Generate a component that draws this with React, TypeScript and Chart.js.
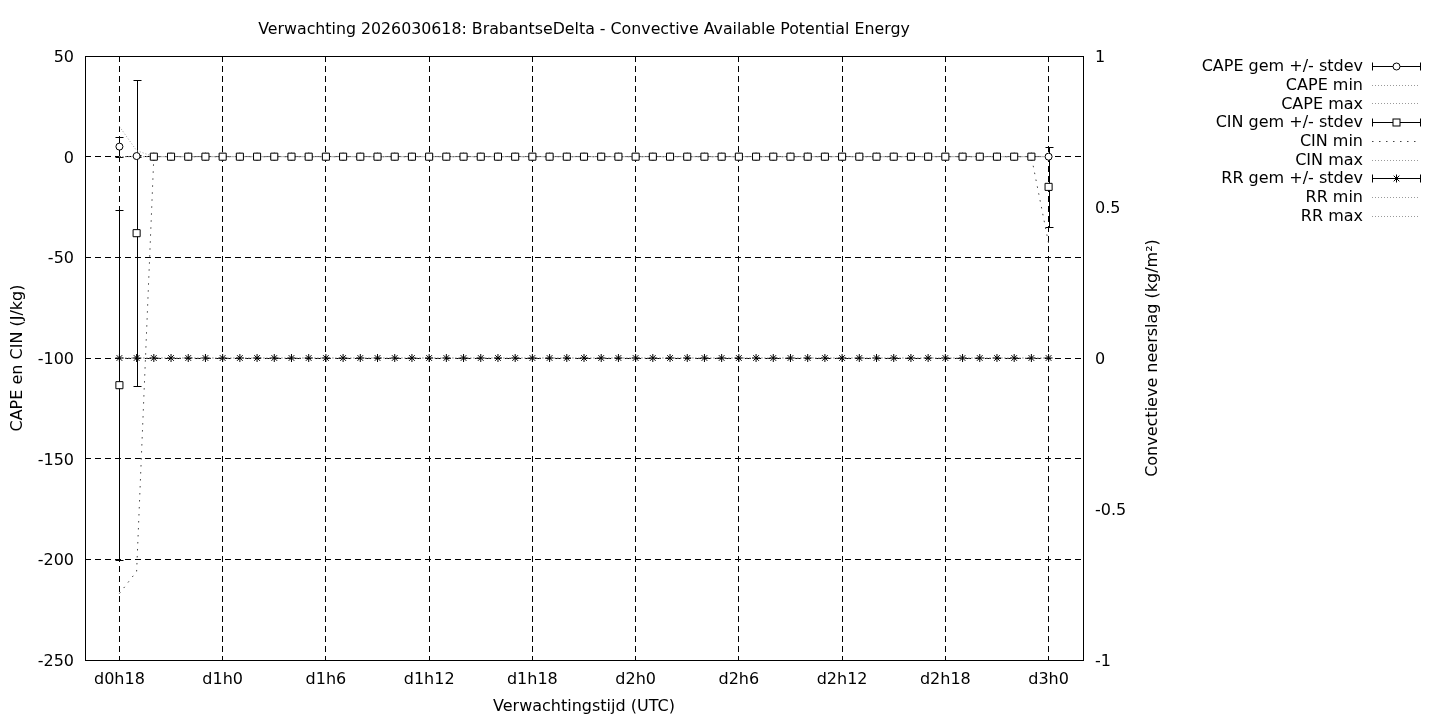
import React, { useEffect, useRef } from "react";
import { Chart, registerables } from "chart.js";

Chart.register(...registerables);

const FONT = "'DejaVu Sans', sans-serif";

// forecast hour (hours since d0h0)
const hours = [
  18, 19, 20, 21, 22, 23, 24, 25, 26, 27,
  28, 29, 30, 31, 32, 33, 34, 35, 36, 37,
  38, 39, 40, 41, 42, 43, 44, 45, 46, 47,
  48, 49, 50, 51, 52, 53, 54, 55, 56, 57,
  58, 59, 60, 61, 62, 63, 64, 65, 66, 67,
  68, 69, 70, 71, 72,
];

const capeMean = [
  5, 0.3, 0, 0, 0, 0, 0, 0, 0, 0,
  0, 0, 0, 0, 0, 0, 0, 0, 0, 0,
  0, 0, 0, 0, 0, 0, 0, 0, 0, 0,
  0, 0, 0, 0, 0, 0, 0, 0, 0, 0,
  0, 0, 0, 0, 0, 0, 0, 0, 0, 0,
  0, 0, 0, 0, 0,
];
const capeStd = [
  5, 0.5, 0, 0, 0, 0, 0, 0, 0, 0,
  0, 0, 0, 0, 0, 0, 0, 0, 0, 0,
  0, 0, 0, 0, 0, 0, 0, 0, 0, 0,
  0, 0, 0, 0, 0, 0, 0, 0, 0, 0,
  0, 0, 0, 0, 0, 0, 0, 0, 0, 0,
  0, 0, 0, 0, 0,
];
const capeMin = [
  0, 0, 0, 0, 0, 0, 0, 0, 0, 0,
  0, 0, 0, 0, 0, 0, 0, 0, 0, 0,
  0, 0, 0, 0, 0, 0, 0, 0, 0, 0,
  0, 0, 0, 0, 0, 0, 0, 0, 0, 0,
  0, 0, 0, 0, 0, 0, 0, 0, 0, 0,
  0, 0, 0, 0, 0,
];
const capeMax = [
  15, 3, 0, 0, 0, 0, 0, 0, 0, 0,
  0, 0, 0, 0, 0, 0, 0, 0, 0, 0,
  0, 0, 0, 0, 0, 0, 0, 0, 0, 0,
  0, 0, 0, 0, 0, 0, 0, 0, 0, 0,
  0, 0, 0, 0, 0, 0, 0, 0, 0, 0,
  0, 0, 0, 0, 0,
];
const cinMean = [
  -113.5, -38, 0, 0, 0, 0, 0, 0, 0, 0,
  0, 0, 0, 0, 0, 0, 0, 0, 0, 0,
  0, 0, 0, 0, 0, 0, 0, 0, 0, 0,
  0, 0, 0, 0, 0, 0, 0, 0, 0, 0,
  0, 0, 0, 0, 0, 0, 0, 0, 0, 0,
  0, 0, 0, 0, -15,
];
const cinStd = [
  87, 76, 0, 0, 0, 0, 0, 0, 0, 0,
  0, 0, 0, 0, 0, 0, 0, 0, 0, 0,
  0, 0, 0, 0, 0, 0, 0, 0, 0, 0,
  0, 0, 0, 0, 0, 0, 0, 0, 0, 0,
  0, 0, 0, 0, 0, 0, 0, 0, 0, 0,
  0, 0, 0, 0, 20,
];
const cinMin = [
  -217, -206, 0, 0, 0, 0, 0, 0, 0, 0,
  0, 0, 0, 0, 0, 0, 0, 0, 0, 0,
  0, 0, 0, 0, 0, 0, 0, 0, 0, 0,
  0, 0, 0, 0, 0, 0, 0, 0, 0, 0,
  0, 0, 0, 0, 0, 0, 0, 0, 0, 0,
  0, 0, 0, 0, -43,
];
const cinMax = [
  0, 0, 0, 0, 0, 0, 0, 0, 0, 0,
  0, 0, 0, 0, 0, 0, 0, 0, 0, 0,
  0, 0, 0, 0, 0, 0, 0, 0, 0, 0,
  0, 0, 0, 0, 0, 0, 0, 0, 0, 0,
  0, 0, 0, 0, 0, 0, 0, 0, 0, 0,
  0, 0, 0, 0, 0,
];
const rrMean = [
  0, 0, 0, 0, 0, 0, 0, 0, 0, 0,
  0, 0, 0, 0, 0, 0, 0, 0, 0, 0,
  0, 0, 0, 0, 0, 0, 0, 0, 0, 0,
  0, 0, 0, 0, 0, 0, 0, 0, 0, 0,
  0, 0, 0, 0, 0, 0, 0, 0, 0, 0,
  0, 0, 0, 0, 0,
];
const rrStd = [
  0, 0, 0, 0, 0, 0, 0, 0, 0, 0,
  0, 0, 0, 0, 0, 0, 0, 0, 0, 0,
  0, 0, 0, 0, 0, 0, 0, 0, 0, 0,
  0, 0, 0, 0, 0, 0, 0, 0, 0, 0,
  0, 0, 0, 0, 0, 0, 0, 0, 0, 0,
  0, 0, 0, 0, 0,
];
const rrMin = [
  0, 0, 0, 0, 0, 0, 0, 0, 0, 0,
  0, 0, 0, 0, 0, 0, 0, 0, 0, 0,
  0, 0, 0, 0, 0, 0, 0, 0, 0, 0,
  0, 0, 0, 0, 0, 0, 0, 0, 0, 0,
  0, 0, 0, 0, 0, 0, 0, 0, 0, 0,
  0, 0, 0, 0, 0,
];
const rrMax = [
  0, 0, 0, 0, 0, 0, 0, 0, 0, 0,
  0, 0, 0, 0, 0, 0, 0, 0, 0, 0,
  0, 0, 0, 0, 0, 0, 0, 0, 0, 0,
  0, 0, 0, 0, 0, 0, 0, 0, 0, 0,
  0, 0, 0, 0, 0, 0, 0, 0, 0, 0,
  0, 0, 0, 0, 0,
];

const xTickValues = [18, 24, 30, 36, 42, 48, 54, 60, 66, 72];
const xTickLabels = ["d0h18", "d1h0", "d1h6", "d1h12", "d1h18", "d2h0", "d2h6", "d2h12", "d2h18", "d3h0"];
const yTickValues = [50, 0, -50, -100, -150, -200, -250];
const y2TickValues = [1, 0.5, 0, -0.5, -1];

const TITLE = "Verwachting 2026030618: BrabantseDelta - Convective Available Potential Energy";
const X_TITLE = "Verwachtingstijd (UTC)";
const Y_TITLE = "CAPE en CIN (J/kg)";
const Y2_TITLE = "Convectieve neerslag (kg/m²)";

const legendLabels = [
  "CAPE gem +/- stdev", "CAPE min", "CAPE max",
  "CIN gem +/- stdev", "CIN min", "CIN max",
  "RR gem +/- stdev", "RR min", "RR max",
];

const FINE_DOT = [1, 2];
const SPARSE_DOT = [1.5, 5.5];
const GRAY = "#9a9a9a";
const DARK = "#444444";

const pts = (arr: number[]) => hours.map((h, i) => ({ x: h, y: arr[i] }));

function drawMarker(ctx: CanvasRenderingContext2D, kind: string, x: number, y: number) {
  ctx.save();
  ctx.strokeStyle = "#000";
  ctx.fillStyle = "#fff";
  ctx.lineWidth = 1;
  ctx.setLineDash([]);
  if (kind === "circle") {
    ctx.beginPath();
    ctx.arc(x, y, 3.5, 0, Math.PI * 2);
    ctx.fill();
    ctx.stroke();
  } else if (kind === "rect") {
    ctx.fillRect(x - 3.5, y - 3.5, 7, 7);
    ctx.strokeRect(x - 3.5, y - 3.5, 7, 7);
  } else {
    const r = 4;
    ctx.beginPath();
    ctx.moveTo(x - r, y); ctx.lineTo(x + r, y);
    ctx.moveTo(x, y - r); ctx.lineTo(x, y + r);
    const d = r * Math.SQRT1_2;
    ctx.moveTo(x - d, y - d); ctx.lineTo(x + d, y + d);
    ctx.moveTo(x - d, y + d); ctx.lineTo(x + d, y - d);
    ctx.stroke();
  }
  ctx.restore();
}

const errorBarPlugin = {
  id: "errorBars",
  beforeDatasetsDraw(chart: any) {
    const ctx = chart.ctx as CanvasRenderingContext2D;
    const xs = chart.scales.x;
    const sets: [number[], number[], string][] = [
      [capeMean, capeStd, "y"],
      [cinMean, cinStd, "y"],
      [rrMean, rrStd, "y2"],
    ];
    ctx.save();
    ctx.strokeStyle = "#000";
    ctx.lineWidth = 1;
    ctx.setLineDash([]);
    for (const [m, s, axis] of sets) {
      const ys = chart.scales[axis];
      for (let i = 0; i < hours.length; i++) {
        if (!s[i]) continue;
        const x = Math.round(xs.getPixelForValue(hours[i])) + 0.5;
        const y1 = Math.round(ys.getPixelForValue(m[i] + s[i])) + 0.5;
        const y2 = Math.round(ys.getPixelForValue(m[i] - s[i])) + 0.5;
        ctx.beginPath();
        ctx.moveTo(x, y1); ctx.lineTo(x, y2);
        ctx.moveTo(x - 4, y1); ctx.lineTo(x + 4, y1);
        ctx.moveTo(x - 4, y2); ctx.lineTo(x + 4, y2);
        ctx.stroke();
      }
    }
    ctx.restore();
  },
};

const decorPlugin = {
  id: "decor",
  afterDraw(chart: any) {
    const ctx = chart.ctx as CanvasRenderingContext2D;
    const a = chart.chartArea;
    ctx.save();
    // border
    ctx.strokeStyle = "#000";
    ctx.lineWidth = 1;
    ctx.setLineDash([]);
    ctx.strokeRect(Math.round(a.left) + 0.5, Math.round(a.top) + 0.5, Math.round(a.right - a.left), Math.round(a.bottom - a.top));

    ctx.fillStyle = "#000";
    ctx.font = `15.8px ${FONT}`;
    ctx.textBaseline = "middle";
    ctx.textAlign = "center";
    ctx.fillText(TITLE, (a.left + a.right) / 2, 30);
    ctx.font = `16px ${FONT}`;
    ctx.fillText(X_TITLE, (a.left + a.right) / 2, 707);

    ctx.save();
    ctx.translate(18, (a.top + a.bottom) / 2);
    ctx.rotate(-Math.PI / 2);
    ctx.fillText(Y_TITLE, 0, 0);
    ctx.restore();

    ctx.save();
    ctx.translate(1153, (a.top + a.bottom) / 2);
    ctx.rotate(-Math.PI / 2);
    ctx.fillText(Y2_TITLE, 0, 0);
    ctx.restore();

    // legend
    const textRight = 1363;
    const x0 = 1372;
    const x1 = 1420;
    const styles: { kind: string; dash?: number[]; color?: string }[] = [
      { kind: "circle" }, { kind: "line", dash: FINE_DOT, color: GRAY }, { kind: "line", dash: FINE_DOT, color: GRAY },
      { kind: "rect" }, { kind: "line", dash: SPARSE_DOT, color: DARK }, { kind: "line", dash: FINE_DOT, color: GRAY },
      { kind: "star" }, { kind: "line", dash: FINE_DOT, color: GRAY }, { kind: "line", dash: FINE_DOT, color: GRAY },
    ];
    legendLabels.forEach((label, i) => {
      const y = 66 + i * 18.7;
      const yy = Math.round(y) + 0.5;
      ctx.fillStyle = "#000";
      ctx.textAlign = "right";
      ctx.fillText(label, textRight, y + 1);
      const st = styles[i];
      ctx.lineWidth = 1;
      if (st.kind === "line") {
        ctx.strokeStyle = st.color!;
        ctx.setLineDash(st.dash!);
        ctx.beginPath();
        ctx.moveTo(x0, yy); ctx.lineTo(x1, yy);
        ctx.stroke();
        ctx.setLineDash([]);
      } else {
        ctx.strokeStyle = "#000";
        ctx.setLineDash([]);
        ctx.beginPath();
        ctx.moveTo(x0 + 0.5, yy); ctx.lineTo(x1 + 0.5, yy);
        ctx.moveTo(x0 + 0.5, yy - 4); ctx.lineTo(x0 + 0.5, yy + 4);
        ctx.moveTo(x1 + 0.5, yy - 4); ctx.lineTo(x1 + 0.5, yy + 4);
        ctx.stroke();
        drawMarker(ctx, st.kind, Math.round((x0 + x1) / 2) + 0.5, yy);
      }
    });
    ctx.restore();
  },
};

export default function App() {
  const ref = useRef<HTMLCanvasElement>(null);
  useEffect(() => {
    const canvas = ref.current!;
    const lineDs = (label: string, arr: number[], dash: number[], color: string, axis: string, order: number) => ({
      label,
      data: pts(arr),
      showLine: true,
      borderColor: color,
      borderWidth: 1,
      borderDash: dash,
      pointRadius: 0,
      fill: false,
      yAxisID: axis,
      order,
    });
    const tickFont = { family: FONT, size: 16 };
    const chart = new Chart(canvas, {
      type: "scatter",
      data: {
        datasets: [
          {
            label: "CIN gem +/- stdev",
            data: pts(cinMean),
            showLine: false,
            pointStyle: "rect",
            pointRadius: 5,
            pointBackgroundColor: "#fff",
            pointBorderColor: "#000",
            pointBorderWidth: 1,
            yAxisID: "y",
            order: 0,
          },
          {
            label: "CAPE gem +/- stdev",
            data: pts(capeMean),
            showLine: false,
            pointStyle: "circle",
            pointRadius: 3.5,
            pointBackgroundColor: "#fff",
            pointBorderColor: "#000",
            pointBorderWidth: 1,
            yAxisID: "y",
            order: 1,
          },
          {
            label: "RR gem +/- stdev",
            data: pts(rrMean),
            showLine: false,
            pointStyle: "star",
            pointRadius: 4,
            pointBackgroundColor: "#000",
            pointBorderColor: "#000",
            pointBorderWidth: 1,
            yAxisID: "y2",
            order: 2,
          },
          lineDs("CAPE min", capeMin, FINE_DOT, GRAY, "y", 3),
          lineDs("CAPE max", capeMax, FINE_DOT, GRAY, "y", 4),
          lineDs("CIN min", cinMin, SPARSE_DOT, DARK, "y", 5),
          lineDs("CIN max", cinMax, FINE_DOT, GRAY, "y", 6),
          lineDs("RR min", rrMin, FINE_DOT, GRAY, "y2", 7),
          lineDs("RR max", rrMax, FINE_DOT, GRAY, "y2", 8),
        ] as any,
      },
      options: {
        responsive: false,
        animation: false,
        devicePixelRatio: 1,
        layout: { padding: { top: 56, left: 0, right: 0, bottom: 0 } },
        plugins: {
          legend: { display: false },
          title: { display: false },
          tooltip: { enabled: false },
        },
        scales: {
          x: {
            type: "linear",
            min: 16,
            max: 74,
            afterBuildTicks: (s: any) => {
              s.ticks = xTickValues.map((v) => ({ value: v }));
            },
            afterFit: (s: any) => {
              s.height = 60;
            },
            ticks: {
              autoSkip: false,
              maxRotation: 0,
              minRotation: 0,
              padding: 10,
              color: "#000",
              font: tickFont,
              callback: (v: any) => xTickLabels[xTickValues.indexOf(Number(v))],
            },
            grid: { color: "#000", lineWidth: 1, drawTicks: false },
            border: { display: false, dash: [6, 4] },
          },
          y: {
            type: "linear",
            position: "left",
            min: -250,
            max: 50,
            afterBuildTicks: (s: any) => {
              s.ticks = yTickValues.map((v) => ({ value: v }));
            },
            afterFit: (s: any) => {
              s.width = 85;
            },
            ticks: {
              padding: 11,
              labelOffset: 2,
              color: "#000",
              font: tickFont,
              callback: (v: any) => String(v),
            },
            grid: { color: "#000", lineWidth: 1, drawTicks: false },
            border: { display: false, dash: [6, 4] },
          },
          y2: {
            type: "linear",
            position: "right",
            min: -1,
            max: 1,
            afterBuildTicks: (s: any) => {
              s.ticks = y2TickValues.map((v) => ({ value: v }));
            },
            afterFit: (s: any) => {
              s.width = 357;
            },
            ticks: {
              padding: 12,
              labelOffset: 2,
              color: "#000",
              font: tickFont,
              callback: (v: any) => String(v),
            },
            grid: { display: false, drawTicks: false },
            border: { display: false },
          },
        },
      } as any,
      plugins: [errorBarPlugin, decorPlugin],
    });
    return () => chart.destroy();
  }, []);
  return (
    <canvas
      ref={ref}
      width={1440}
      height={720}
      style={{ position: "fixed", left: 0, top: 0, width: 1440, height: 720, background: "#fff" }}
    />
  );
}
